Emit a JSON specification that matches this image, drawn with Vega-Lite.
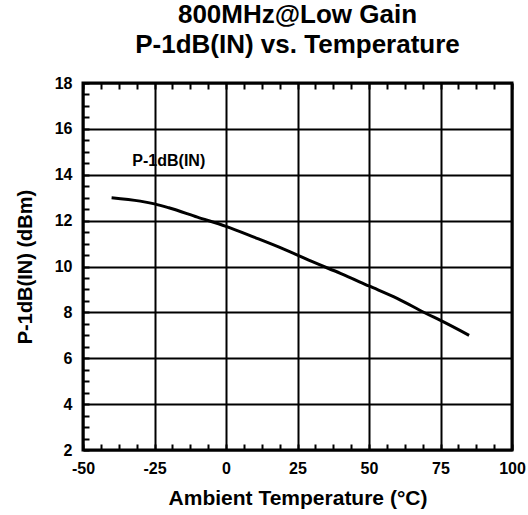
{
  "$schema": "https://vega.github.io/schema/vega-lite/v6.json",
  "width": 429,
  "height": 367,
  "autosize": {"type": "none"},
  "padding": {"left": 83, "top": 83, "right": 16, "bottom": 65},
  "background": "white",
  "config": {
    "font": "Liberation Sans",
    "view": {"stroke": "black", "strokeWidth": 3},
    "axis": {
      "labelFont": "Liberation Sans",
      "labelFontWeight": "bold",
      "labelFontSize": 16,
      "labelColor": "black",
      "titleFont": "Liberation Sans",
      "titleFontWeight": "bold",
      "titleColor": "black",
      "domain": false,
      "tickColor": "black",
      "tickWidth": 2,
      "gridColor": "black",
      "gridWidth": 2
    }
  },
  "title": {
    "text": ["800MHz@Low Gain", "P-1dB(IN) vs. Temperature"],
    "font": "Liberation Sans",
    "fontSize": 26,
    "fontWeight": "bold",
    "color": "black",
    "lineHeight": 30,
    "anchor": "middle",
    "offset": 17
  },
  "data": {
    "values": [
      {"t": -40, "v": 13.0},
      {"t": -30, "v": 12.85},
      {"t": -25, "v": 12.73},
      {"t": -20, "v": 12.56},
      {"t": -10, "v": 12.15},
      {"t": 0, "v": 11.75},
      {"t": 10, "v": 11.27},
      {"t": 20, "v": 10.77},
      {"t": 25, "v": 10.5},
      {"t": 30, "v": 10.22},
      {"t": 40, "v": 9.7},
      {"t": 50, "v": 9.15},
      {"t": 60, "v": 8.6},
      {"t": 70, "v": 7.95},
      {"t": 75, "v": 7.65},
      {"t": 85, "v": 7.0}
    ]
  },
  "layer": [
    {
      "mark": {"type": "line", "color": "black", "strokeWidth": 3, "interpolate": "monotone"},
      "encoding": {
        "x": {
          "field": "t", "type": "quantitative",
          "scale": {"domain": [-50, 100], "nice": false, "zero": false},
          "axis": {
            "orient": "bottom",
            "title": "Ambient Temperature (°C)",
            "titleFontSize": 21,
            "titlePadding": 11,
            "values": [-50, -43.75, -37.5, -31.25, -25, -18.75, -12.5, -6.25, 0, 6.25, 12.5, 18.75, 25, 31.25, 37.5, 43.75, 50, 56.25, 62.5, 68.75, 75, 81.25, 87.5, 93.75, 100],
            "labelExpr": "datum.value % 25 === 0 ? toString(datum.value) : ''",
            "labelFontWeight": "bold",
            "labelOverlap": false,
            "labelFlush": false,
            "tickSize": -6,
            "labelPadding": 16,
            "grid": true,
            "gridOpacity": {"condition": {"test": "datum.value % 25 === 0", "value": 1}, "value": 0}
          }
        },
        "y": {
          "field": "v", "type": "quantitative",
          "scale": {"domain": [2, 18], "nice": false, "zero": false},
          "axis": {
            "orient": "left",
            "title": "P-1dB(IN) (dBm)",
            "titleFontSize": 20,
            "titlePadding": 19,
            "values": [2, 2.5, 3, 3.5, 4, 4.5, 5, 5.5, 6, 6.5, 7, 7.5, 8, 8.5, 9, 9.5, 10, 10.5, 11, 11.5, 12, 12.5, 13, 13.5, 14, 14.5, 15, 15.5, 16, 16.5, 17, 17.5, 18],
            "labelExpr": "datum.value % 2 === 0 ? toString(datum.value) : ''",
            "labelFontWeight": "bold",
            "labelOverlap": false,
            "labelFlush": false,
            "tickSize": -6,
            "labelPadding": 17,
            "grid": true,
            "gridOpacity": {"condition": {"test": "datum.value % 2 === 0", "value": 1}, "value": 0}
          }
        }
      }
    },
    {
      "data": {"values": [{"t": -20, "v": 14.6, "label": "P-1dB(IN)"}]},
      "mark": {"type": "text", "font": "Liberation Sans", "fontWeight": "bold", "fontSize": 16, "color": "black"},
      "encoding": {
        "x": {
          "field": "t", "type": "quantitative",
          "axis": {
            "orient": "top",
            "title": null,
            "values": [-50, -43.75, -37.5, -31.25, -25, -18.75, -12.5, -6.25, 0, 6.25, 12.5, 18.75, 25, 31.25, 37.5, 43.75, 50, 56.25, 62.5, 68.75, 75, 81.25, 87.5, 93.75, 100],
            "labels": false,
            "tickSize": -6,
            "grid": false
          }
        },
        "y": {"field": "v", "type": "quantitative", "axis": null},
        "text": {"field": "label"}
      }
    }
  ],
  "resolve": {"axis": {"x": "independent", "y": "independent"}}
}
